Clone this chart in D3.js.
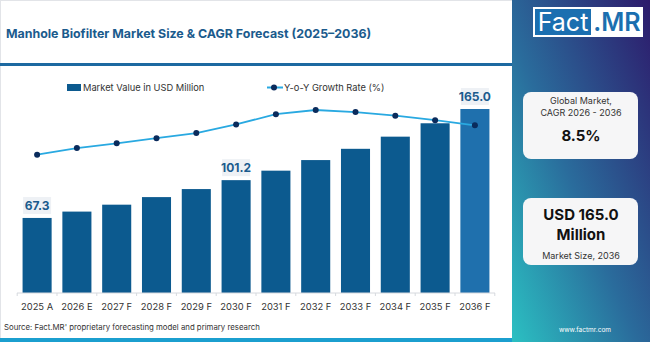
<!DOCTYPE html>
<html>
<head>
<meta charset="utf-8">
<script src="https://cdn.jsdelivr.net/npm/d3@7"></script>
<style>
  html, body { margin: 0; padding: 0; background: #fff; }
  svg { display: block; font-family: Inter, "Open Sans", sans-serif; }
</style>
</head>
<body>
<svg id="chart" width="650" height="342"></svg>
<script>
// chart values
const years = ["2025 A", "2026 E", "2027 F", "2028 F", "2029 F", "2030 F",
  "2031 F", "2032 F", "2033 F", "2034 F", "2035 F", "2036 F"];
const marketValue = [67.3, 73.0, 79.2, 86.0, 93.2, 101.2, 109.7, 119.2, 129.3, 140.2, 152.2, 165.0];
const growthRate = [7.5, 7.72, 7.88, 8.05, 8.22, 8.51, 8.85, 8.99, 8.92, 8.8, 8.65, 8.48];
const labelled = ["2025 A", "2030 F", "2036 F"];

const title = "Manhole Biofilter Market Size & CAGR Forecast (2025\u20132036)";
const source = "Source: Fact.MR' proprietary forecasting model and primary research";

const svg = d3.select("#chart");
const W = 650, H = 342, panelX = 512;

const barColor = "#0c5a8f";
const lastBarColor = "#1f70ad";
const lineColor = "#29a9e1";
const dotColor = "#0a2b5c";
const titleColor = "#1b5b8d";

// frame
svg.append("rect").attr("x", 0.5).attr("y", 0.5).attr("width", panelX).attr("height", H - 1)
  .attr("fill", "#fff").attr("stroke", "#e2e4e8");

svg.append("text")
  .attr("x", 6).attr("y", 38)
  .attr("fill", titleColor)
  .style("font-size", "12.4px").style("font-weight", 700)
  .text(title);

svg.append("rect").attr("x", 0).attr("y", 63).attr("width", panelX).attr("height", 3)
  .attr("fill", "#1d69a1");

// scales
const x = d3.scaleBand().domain(years).range([17, 495]).paddingInner(0.27).paddingOuter(0.14);
const y = d3.scaleLinear().domain([0, 165]).range([293, 109]);
const y2 = d3.scaleLinear().domain([6, 10]).range([199.7, 79.7]);

// bars
svg.append("g").selectAll("rect").data(years).join("rect")
  .attr("x", d => x(d))
  .attr("y", (d, i) => y(marketValue[i]))
  .attr("width", x.bandwidth())
  .attr("height", (d, i) => y(0) - y(marketValue[i]))
  .attr("fill", (d, i) => i === years.length - 1 ? lastBarColor : barColor);

// x axis
const axis = svg.append("g").attr("transform", `translate(0,${y(0)})`);
axis.append("line").attr("x1", 17).attr("x2", 495).attr("stroke", "#d6d9de");
const tickX = i => x(years[0]) - (x.step() - x.bandwidth()) / 2 + i * x.step();
axis.selectAll("line.tick").data(d3.range(years.length + 1)).join("line")
  .attr("class", "tick")
  .attr("x1", tickX).attr("x2", tickX)
  .attr("y1", 0).attr("y2", 3).attr("stroke", "#d6d9de");
axis.selectAll("text").data(years).join("text")
  .attr("x", d => x(d) + x.bandwidth() / 2)
  .attr("y", 17)
  .attr("text-anchor", "middle")
  .attr("fill", "#333")
  .style("font-size", "9.4px")
  .text(d => d);

// value labels
const lab = svg.append("g").selectAll("g").data(labelled).join("g")
  .attr("transform", d => {
    const i = years.indexOf(d);
    return `translate(${x(d) + x.bandwidth() / 2},${y(marketValue[i]) - 12})`;
  });
lab.append("rect").attr("x", -14).attr("y", -9).attr("width", 28).attr("height", 17)
  .attr("fill", "#eef1f5");
lab.append("text").attr("text-anchor", "middle").attr("dy", "0.35em")
  .attr("fill", titleColor)
  .style("font-size", "12px").style("font-weight", 700)
  .text(d => marketValue[years.indexOf(d)].toFixed(1));

// growth line
const line = d3.line()
  .x((d, i) => x(years[i]) + x.bandwidth() / 2)
  .y(d => y2(d));
svg.append("path").datum(growthRate)
  .attr("d", line).attr("fill", "none")
  .attr("stroke", lineColor).attr("stroke-width", 1.8);
svg.append("g").selectAll("circle").data(growthRate).join("circle")
  .attr("cx", (d, i) => x(years[i]) + x.bandwidth() / 2)
  .attr("cy", d => y2(d))
  .attr("r", 3).attr("fill", dotColor);

// legend
const leg = svg.append("g").style("font-size", "9.3px").attr("fill", "#333");
leg.append("rect").attr("x", 67).attr("y", 84).attr("width", 14).attr("height", 7).attr("fill", barColor);
leg.append("text").attr("x", 83).attr("y", 87.5).attr("dy", "0.35em").text("Market Value in USD Million");
leg.append("line").attr("x1", 267).attr("x2", 283).attr("y1", 87.5).attr("y2", 87.5)
  .attr("stroke", lineColor).attr("stroke-width", 2);
leg.append("circle").attr("cx", 274).attr("cy", 87.5).attr("r", 3).attr("fill", dotColor);
leg.append("text").attr("x", 284).attr("y", 87.5).attr("dy", "0.35em").text("Y-o-Y Growth Rate (%)");

svg.append("text").attr("x", 4).attr("y", 330)
  .attr("fill", "#333").style("font-size", "7.8px")
  .text(source);

// bottom strip
svg.append("rect").attr("x", 0).attr("y", 338).attr("width", W).attr("height", 4).attr("fill", "#1b9fcf");

// right panel
const defs = svg.append("defs");
const grad = defs.append("linearGradient").attr("id", "panelGrad")
  .attr("x1", "0").attr("y1", "1").attr("x2", "1").attr("y2", "0");
grad.append("stop").attr("offset", "0%").attr("stop-color", "#2bc0c2");
grad.append("stop").attr("offset", "45%").attr("stop-color", "#2a6c9c");
grad.append("stop").attr("offset", "100%").attr("stop-color", "#2d1a6b");
svg.append("rect").attr("x", panelX).attr("y", 0).attr("width", W - panelX).attr("height", H)
  .attr("fill", "url(#panelGrad)");

// logo
svg.append("rect").attr("x", 533).attr("y", 7).attr("width", 110).attr("height", 30).attr("fill", "#fff");
svg.append("rect").attr("x", 535).attr("y", 9).attr("width", 56).attr("height", 26).attr("fill", "#1b6fb0");
svg.append("text").attr("x", 563).attr("y", 31).attr("text-anchor", "middle")
  .attr("fill", "#fff").style("font-size", "25px").text("Fact");
svg.append("text").attr("x", 617).attr("y", 31).attr("text-anchor", "middle")
  .attr("fill", "#1b6fb0").style("font-size", "25px").style("font-weight", 600).text(".MR");

// cards
const cards = svg.append("g");
cards.append("rect").attr("x", 523).attr("y", 92).attr("width", 115).attr("height", 67).attr("rx", 8)
  .attr("fill", "#f6f6f7");
cards.append("text").attr("x", 581).attr("y", 101).attr("dy", "0.35em").attr("text-anchor", "middle")
  .attr("fill", "#333").style("font-size", "9px").text("Global Market,");
cards.append("text").attr("x", 581).attr("y", 113).attr("dy", "0.35em").attr("text-anchor", "middle")
  .attr("fill", "#333").style("font-size", "9px").text("CAGR 2026 - 2036");
cards.append("text").attr("x", 581).attr("y", 136).attr("dy", "0.35em").attr("text-anchor", "middle")
  .attr("fill", "#111").style("font-size", "15px").style("font-weight", 700).text("8.5%");

cards.append("rect").attr("x", 523).attr("y", 198).attr("width", 115).attr("height", 67).attr("rx", 8)
  .attr("fill", "#f6f6f7");
cards.append("text").attr("x", 581).attr("y", 215).attr("dy", "0.35em").attr("text-anchor", "middle")
  .attr("fill", "#111").style("font-size", "15px").style("font-weight", 700).text("USD 165.0");
cards.append("text").attr("x", 581).attr("y", 235).attr("dy", "0.35em").attr("text-anchor", "middle")
  .attr("fill", "#111").style("font-size", "15px").style("font-weight", 700).text("Million");
cards.append("text").attr("x", 581).attr("y", 256).attr("dy", "0.35em").attr("text-anchor", "middle")
  .attr("fill", "#333").style("font-size", "9px").text("Market Size, 2036");

svg.append("text").attr("x", 585).attr("y", 332).attr("text-anchor", "middle")
  .attr("fill", "#fff").style("font-size", "6.5px").text("www.factmr.com");
</script>
</body>
</html>
